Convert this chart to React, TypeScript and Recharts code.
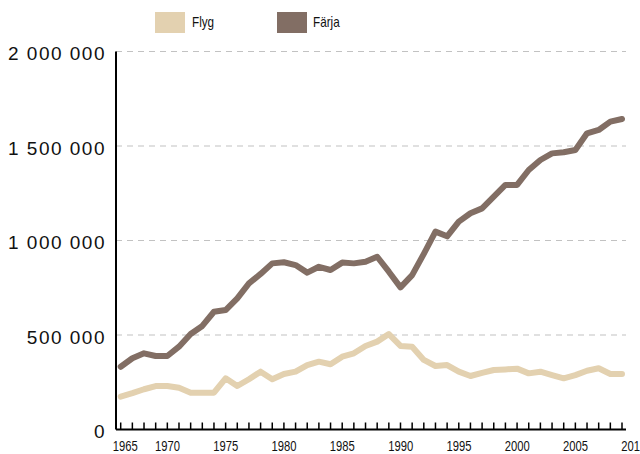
import { LineChart, Line, XAxis, YAxis, CartesianGrid } from "recharts";

const YEARS = [
  1965, 1966, 1967, 1968, 1969, 1970, 1971, 1972, 1973, 1974,
  1975, 1976, 1977, 1978, 1979, 1980, 1981, 1982, 1983, 1984,
  1985, 1986, 1987, 1988, 1989, 1990, 1991, 1992, 1993, 1994,
  1995, 1996, 1997, 1998, 1999, 2000, 2001, 2002, 2003, 2004,
  2005, 2006, 2007, 2008,
];

const FLYG = [
  174000, 192000, 213000, 230000, 230000, 221000, 195000, 195000, 195000, 271000,
  230000, 266000, 306000, 266000, 294000, 306000, 341000, 359000, 345000, 385000,
  403000, 442000, 465000, 505000, 442000, 438000, 368000, 336000, 341000, 306000,
  283000, 300000, 315000, 318000, 322000, 297000, 306000, 288000, 271000, 288000,
  311000, 324000, 294000, 294000,
];

const FARJA = [
  332000, 377000, 403000, 389000, 389000, 438000, 505000, 548000, 623000, 632000,
  694000, 773000, 823000, 879000, 885000, 870000, 830000, 861000, 844000, 883000,
  879000, 888000, 914000, 835000, 752000, 817000, 929000, 1047000, 1022000, 1100000,
  1144000, 1170000, 1232000, 1294000, 1294000, 1373000, 1426000, 1461000, 1467000, 1479000,
  1567000, 1585000, 1629000, 1643000,
];

const X_LABELS = [1965, 1970, 1975, 1980, 1985, 1990, 1995, 2000, 2005, 2010];
const Y_TICKS = [0, 500000, 1000000, 1500000, 2000000];

const COLORS = { flyg: "#E3D1B0", farja: "#826E64" };

const W = 640;
const H = 454;
const Y_AXIS_W = 116;
const MARGIN_RIGHT = 14;
const PAD_L = 4.7;
const PAD_R = 4;
const STEP =
  (W - MARGIN_RIGHT - PAD_R - Y_AXIS_W - PAD_L) / (YEARS[YEARS.length - 1] - YEARS[0]);

const data = YEARS.map((year, i) => ({ year, flyg: FLYG[i], farja: FARJA[i] }));

const fmt = (v: number) => String(v).replace(/\B(?=(\d{3})+(?!\d))/g, " ");

const condensed = "'Liberation Sans Narrow', 'Liberation Sans', Arial, sans-serif";

// ─── X ticks: small marks pointing up, labels right-aligned under the tick ───
function YearTick({ x, y, payload, index }: any) {
  const year = payload.value as number;
  const last = YEARS[YEARS.length - 1];
  const labels: { text: string; lx: number }[] = [];
  // label box is 25px wide, placed by its left edge
  if (X_LABELS.includes(year)) {
    labels.push({ text: String(year), lx: index === 0 ? x - 8 : x - 24 });
  }
  if (year === last) {
    const next = X_LABELS[X_LABELS.length - 1];
    labels.push({ text: String(next), lx: x + (next - last) * STEP - 24 });
  }
  return (
    <g>
      <line x1={x} x2={x} y1={y} y2={y - 7} stroke="#000" strokeWidth={1.5} />
      {labels.map((l) => (
        <text
          key={l.text}
          x={l.lx}
          y={y + 21}
          textAnchor="start"
          fontSize={15}
          textLength={25}
          lengthAdjust="spacingAndGlyphs"
          fill="#111"
          fontFamily={condensed}
        >
          {l.text}
        </text>
      ))}
    </g>
  );
}

function ValueTick({ x, y, payload }: any) {
  return (
    <text
      x={x - 10}
      y={y + 2}
      textAnchor="end"
      dominantBaseline="central"
      fontSize={19}
      letterSpacing={1.5}
      fill="#111"
      fontFamily="'Liberation Sans', Arial, sans-serif"
    >
      {fmt(payload.value)}
    </text>
  );
}

function LegendBox() {
  const items = [
    { name: "Flyg", color: COLORS.flyg, left: 155, textLeft: 192 },
    { name: "Färja", color: COLORS.farja, left: 277, textLeft: 313 },
  ];
  return (
    <>
      {items.map((it) => (
        <div key={it.name}>
          <div
            style={{
              position: "absolute",
              left: it.left,
              top: 12,
              width: 30,
              height: 21,
              background: it.color,
            }}
          />
          <div
            style={{
              position: "absolute",
              left: it.textLeft,
              top: 13,
              fontSize: 15,
              lineHeight: "18px",
              color: "#111",
              fontFamily: condensed,
              transform: "scaleX(0.78)",
              transformOrigin: "left center",
            }}
          >
            {it.name}
          </div>
        </div>
      ))}
    </>
  );
}

export default function App() {
  return (
    <div
      style={{
        position: "absolute",
        left: 0,
        top: 0,
        width: W,
        height: H,
        background: "#fff",
        overflow: "hidden",
      }}
    >
      <LegendBox />
      <LineChart
        width={W}
        height={H}
        data={data}
        margin={{ top: 51.5, right: MARGIN_RIGHT, bottom: 0, left: 0 }}
      >
        <CartesianGrid
          vertical={false}
          stroke="#c2c2c2"
          strokeWidth={1.2}
          strokeDasharray="6 5"
        />
        <XAxis
          dataKey="year"
          type="number"
          domain={[YEARS[0], YEARS[YEARS.length - 1]]}
          ticks={YEARS}
          interval={0}
          padding={{ left: PAD_L, right: PAD_R }}
          height={24.5}
          tickSize={0}
          tickMargin={0}
          tickLine={false}
          axisLine={{ stroke: "#000", strokeWidth: 2 }}
          tick={<YearTick />}
        />
        <YAxis
          type="number"
          domain={[0, 2000000]}
          ticks={Y_TICKS}
          width={Y_AXIS_W}
          tickSize={0}
          tickMargin={0}
          tickLine={false}
          axisLine={{ stroke: "#000", strokeWidth: 2 }}
          tick={<ValueTick />}
        />
        <Line
          type="linear"
          dataKey="flyg"
          name="Flyg"
          stroke={COLORS.flyg}
          strokeWidth={6}
          strokeLinejoin="round"
          strokeLinecap="round"
          dot={false}
          isAnimationActive={false}
        />
        <Line
          type="linear"
          dataKey="farja"
          name="Färja"
          stroke={COLORS.farja}
          strokeWidth={6}
          strokeLinejoin="round"
          strokeLinecap="round"
          dot={false}
          isAnimationActive={false}
        />
      </LineChart>
    </div>
  );
}
